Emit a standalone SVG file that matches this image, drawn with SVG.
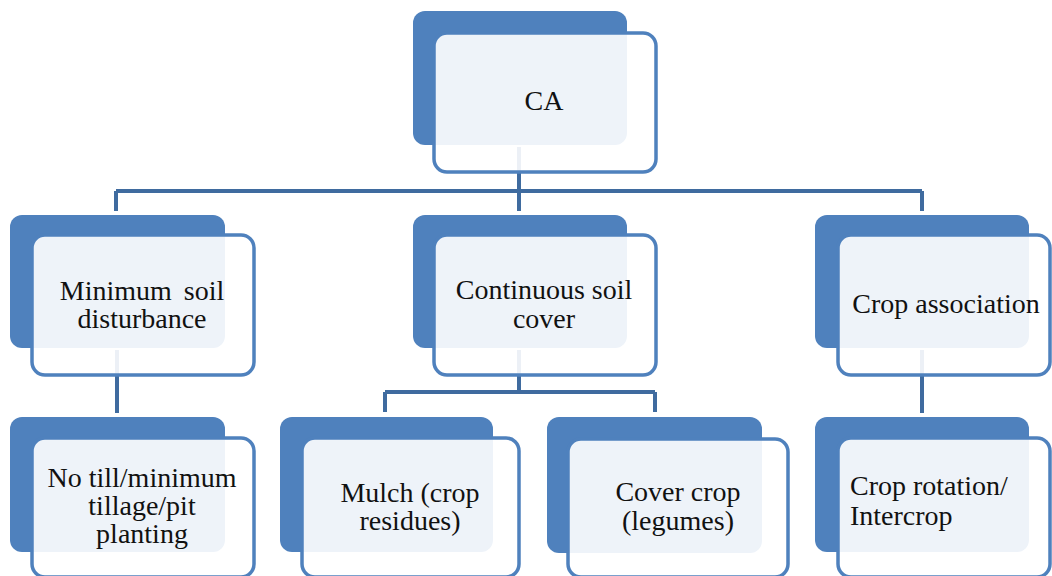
<svg xmlns="http://www.w3.org/2000/svg" width="1052" height="576" viewBox="0 0 1052 576">
<style>
.back{fill:#4F81BD;}
.front{fill:#FFFFFF;fill-opacity:0.9;stroke:#4F81BD;stroke-width:3.5;}
.conn{fill:none;stroke:#3F6B9F;stroke-width:4;}
.lbl{font-size:28px;fill:#111111;text-anchor:middle;}
.lbll{font-size:28px;fill:#111111;text-anchor:start;}
</style>
<rect width="1052" height="576" fill="#FFFFFF"/>
<g id="connectors">
<path class="conn" d="M519,147 V191 M116,191 H922 M116,191 V211 M519,191 V211 M922,191 V211"/>
<path class="conn" d="M117,350 V413"/>
<path class="conn" d="M519,350 V392 M385,392 H655 M385,392 V412 M655,392 V412"/>
<path class="conn" d="M922,350 V413"/>
</g>
<g id="node-ca" font-family="Liberation Serif, serif">
<rect class="back" x="413" y="11" width="214" height="134" rx="12"/>
<rect class="front" x="434" y="33" width="222" height="139" rx="13"/>
<text class="lbl" x="544" y="110">CA</text>
</g>
<g id="node-minimum-soil" font-family="Liberation Serif, serif">
<rect class="back" x="10" y="215" width="215" height="133" rx="12"/>
<rect class="front" x="32" y="235" width="222" height="140" rx="13"/>
<text class="lbl" x="142" y="300" word-spacing="5">Minimum soil</text>
<text class="lbl" x="142" y="328">disturbance</text>
</g>
<g id="node-continuous-cover" font-family="Liberation Serif, serif">
<rect class="back" x="413" y="215" width="214" height="133" rx="12"/>
<rect class="front" x="434" y="235" width="222" height="140" rx="13"/>
<text class="lbl" x="544" y="299">Continuous soil</text>
<text class="lbl" x="544" y="328">cover</text>
</g>
<g id="node-crop-association" font-family="Liberation Serif, serif">
<rect class="back" x="815" y="215" width="214" height="133" rx="12"/>
<rect class="front" x="838" y="235" width="212" height="140" rx="13"/>
<text class="lbl" x="946" y="313">Crop association</text>
</g>
<g id="node-no-till" font-family="Liberation Serif, serif">
<rect class="back" x="10" y="417" width="215" height="135" rx="12"/>
<rect class="front" x="32" y="438" width="222" height="139" rx="13"/>
<text class="lbl" x="142" y="487">No till/minimum</text>
<text class="lbl" x="142" y="515">tillage/pit</text>
<text class="lbl" x="142" y="543">planting</text>
</g>
<g id="node-mulch" font-family="Liberation Serif, serif">
<rect class="back" x="280" y="417" width="213" height="135" rx="12"/>
<rect class="front" x="302" y="438" width="217" height="139" rx="13"/>
<text class="lbl" x="410" y="502">Mulch (crop</text>
<text class="lbl" x="410" y="530">residues)</text>
</g>
<g id="node-cover-crop" font-family="Liberation Serif, serif">
<rect class="back" x="547" y="417" width="215" height="136" rx="12"/>
<rect class="front" x="568" y="439" width="220" height="138" rx="13"/>
<text class="lbl" x="678" y="501">Cover crop</text>
<text class="lbl" x="678" y="530">(legumes)</text>
</g>
<g id="node-crop-rotation" font-family="Liberation Serif, serif">
<rect class="back" x="815" y="417" width="214" height="135" rx="12"/>
<rect class="front" x="838" y="438" width="212" height="139" rx="13"/>
<text class="lbll" x="850" y="495">Crop rotation/</text>
<text class="lbll" x="850" y="525">Intercrop</text>
</g>
</svg>
